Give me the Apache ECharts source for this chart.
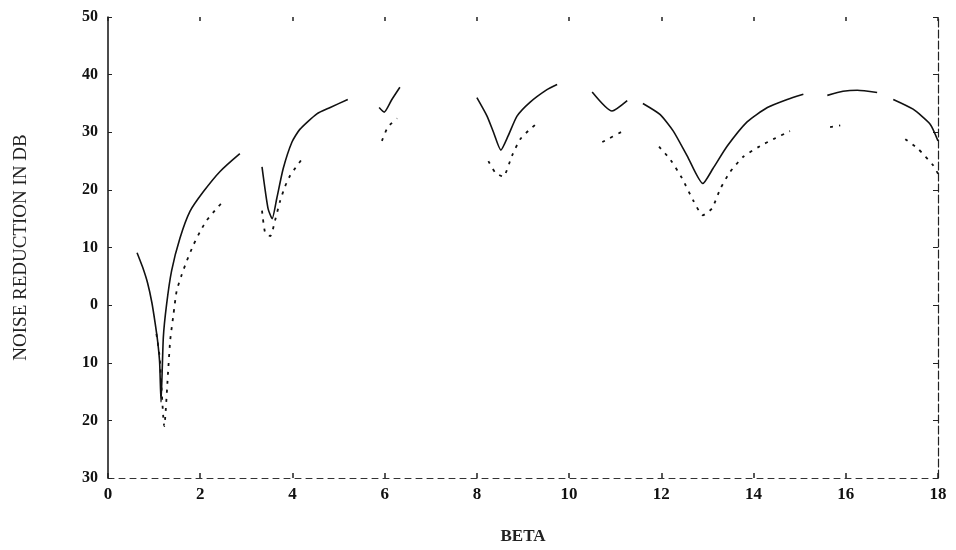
<!DOCTYPE html>
<html>
<head>
<meta charset="utf-8">
<script src="https://cdn.jsdelivr.net/npm/echarts@6/dist/echarts.min.js"></script>
<style>
  html, body { margin: 0; padding: 0; background: #fff; }
  #echarts-container { width: 956px; height: 550px; }
</style>
</head>
<body>
<div id="echarts-container"></div>
<script>
// beta values and noise reduction (dB); null = break in the trace
var solidBeta = [0.63, 0.75, 0.86, 0.95, 1.02, 1.08, 1.12, 1.15, 1.2, 1.27, 1.38, 1.56, 1.78, 2.07, 2.43, 2.86, null,
  3.34, 3.47, 3.56, 3.66, 3.8, 3.99, 4.16, 4.53, 4.82, 5.2, null,
  5.88, 5.99, 6.15, 6.33, null,
  8.0, 8.22, 8.36, 8.52, 8.68, 8.87, 9.15, 9.52, 9.74, null,
  10.5, 10.93, 11.26, null,
  11.6, 11.97, 12.26, 12.56, 12.9, 13.12, 13.43, 13.86, 14.3, 14.73, 15.08, null,
  15.6, 15.94, 16.25, 16.68, null,
  17.03, 17.46, 17.83, 18.0];
var solidNR = [9.1, 6.6, 3.8, 0.5, -3, -6.5, -10, -16.8, -5.6, 0.1, 6, 11.6, 16.3, 19.7, 23.2, 26.3, null,
  24, 16.8, 15, 18.5, 23.7, 28.3, 30.5, 33.2, 34.3, 35.7, null,
  34.3, 33.5, 35.6, 37.8, null,
  36, 32.8, 30, 26.9, 29.4, 32.8, 35.2, 37.4, 38.3, null,
  37, 33.7, 35.5, null,
  35, 33.1, 30.2, 25.9, 21.1, 23.7, 27.6, 31.8, 34.3, 35.7, 36.6, null,
  36.4, 37.1, 37.3, 36.9, null,
  35.7, 34, 31.4, 28.5];

var dottedBeta = [1.05, 1.12, 1.22, 1.31, 1.35, 1.42, 1.49, 1.6, 1.71, 1.85, 2.0, 2.14, 2.36, 2.5, null,
  3.34, 3.41, 3.52, 3.62, 3.73, 3.84, 3.95, 4.1, 4.25, null,
  5.94, 6.07, 6.27, null,
  8.25, 8.4, 8.57, 8.76, 8.94, 9.15, 9.33, null,
  10.72, 11.17, null,
  11.95, 12.2, 12.45, 12.69, 12.9, 13.1, 13.28, 13.49, 13.77, 14.14, 14.43, 14.79, null,
  15.66, 15.88, null,
  17.29, 17.57, 17.9, 18.0];
var dottedNR = [-5, -9, -21, -10.7, -6, -1.6, 2.5, 5.3, 7.7, 10.4, 12.8, 14.7, 16.8, 18, null,
  16.4, 12.5, 12, 14.6, 18, 20.6, 22.5, 24.2, 25.8, null,
  28.5, 30.9, 32.4, null,
  25, 23, 22.3, 25.9, 28.8, 30.5, 31.7, null,
  28.3, 30.2, null,
  27.5, 25.2, 22, 18.2, 15.6, 16.8, 20.2, 23.1, 25.7, 27.6, 28.8, 30.2, null,
  30.9, 31.2, null,
  28.8, 27.1, 24.2, 22.8];

var yTickLabels = { 50: '50', 40: '40', 30: '30', 20: '20', 10: '10', 0: '0', '-10': '10', '-20': '20', '-30': '30' };

function pairs(xs, ys) {
  var out = [];
  for (var i = 0; i < xs.length; i++) {
    out.push(xs[i] === null ? [null, '-'] : [xs[i], ys[i]]);
  }
  return out;
}

var dom = document.getElementById('echarts-container');
var myChart = echarts.init(dom);
var serif = '"Liberation Serif", "DejaVu Serif", serif';

var option = {
  animation: false,
  backgroundColor: '#fff',
  grid: { left: 108, right: 18, top: 17, bottom: 68, containLabel: false },
  xAxis: [{
    type: 'value', min: 0, max: 18, interval: 2,
    name: 'BETA', nameLocation: 'middle', nameGap: 50,
    nameTextStyle: { fontFamily: serif, fontSize: 17, fontWeight: 'bold', color: '#222' },
    axisLine: { show: true, onZero: false, lineStyle: { color: '#333', width: 1, type: [6, 5] } },
    axisTick: { show: true, inside: true, length: 5, lineStyle: { color: '#222', width: 1.5 } },
    axisLabel: { margin: 8, fontFamily: serif, fontSize: 17, fontWeight: 'bold', color: '#111' },
    splitLine: { show: false }
  }, {
    type: 'value', min: 0, max: 18, interval: 2, position: 'top',
    axisLine: { show: false, onZero: false },
    axisTick: { show: true, inside: true, length: 4, lineStyle: { color: '#222', width: 1.5 } },
    axisLabel: { show: false },
    splitLine: { show: false }
  }],
  yAxis: [{
    type: 'value', min: -30, max: 50, interval: 10,
    name: 'NOISE REDUCTION IN DB', nameLocation: 'middle', nameGap: 77, nameRotate: 90,
    nameTextStyle: { fontFamily: serif, fontSize: 19, color: '#222' },
    axisLine: { show: true, onZero: false, lineStyle: { color: '#111', width: 1.5 } },
    axisTick: { show: true, inside: true, length: 4, lineStyle: { color: '#222' } },
    axisLabel: {
      margin: 10, fontFamily: serif, fontSize: 16, fontWeight: 'bold', color: '#111',
      formatter: function (v) { return yTickLabels[v]; }
    },
    splitLine: { show: false }
  }, {
    type: 'value', min: -30, max: 50, interval: 10, position: 'right',
    axisLine: { show: true, onZero: false, lineStyle: { color: '#222', width: 1.2, type: [8, 3] } },
    axisTick: { show: true, inside: true, length: 5, lineStyle: { color: '#222' } },
    axisLabel: { show: false },
    splitLine: { show: false }
  }],
  series: [{
    type: 'line', name: 'solid',
    data: pairs(solidBeta, solidNR),
    showSymbol: false, connectNulls: false, smooth: 0.2,
    lineStyle: { color: '#111', width: 1.6 }
  }, {
    type: 'line', name: 'dotted',
    data: pairs(dottedBeta, dottedNR),
    showSymbol: false, connectNulls: false, smooth: 0.2,
    lineStyle: { color: '#111', width: 1.8, type: [3, 6] }
  }]
};

myChart.setOption(option);
window.addEventListener('resize', myChart.resize);
</script>
</body>
</html>
